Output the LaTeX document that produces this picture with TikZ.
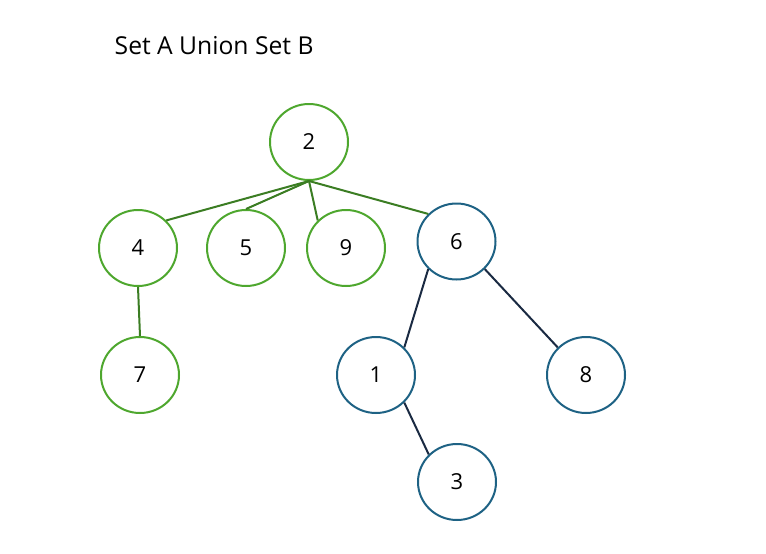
\documentclass[tikz,border=0pt]{standalone}
\usepackage{fontspec}
\setmainfont{Open Sans}
\usetikzlibrary{shapes.geometric}
\definecolor{gcirc}{HTML}{4EA72E}
\definecolor{gedge}{HTML}{3B7D23}
\definecolor{bcirc}{HTML}{1E6284}
\definecolor{bedge}{HTML}{1A2A42}
\begin{document}
\begin{tikzpicture}[x=0.75pt,y=-0.75pt,
  gnode/.style={draw=gcirc,line width=1.5pt,ellipse,minimum width=58.5pt,minimum height=57pt,inner sep=0pt,font=\fontsize{16.5}{19}\selectfont},
  bnode/.style={draw=bcirc,line width=1.5pt,ellipse,minimum width=58.5pt,minimum height=57pt,inner sep=0pt,font=\fontsize{16.5}{19}\selectfont},
  gline/.style={draw=gedge,line width=1.5pt},
  bline/.style={draw=bedge,line width=1.5pt}]
\useasboundingbox (0,0) rectangle (766,553);
\node[anchor=west,font=\fontsize{18.5}{22}\selectfont] (title) at (110,46) {Set A Union Set B};
\node[gnode] (n2) at (309,142) {2};
\node[gnode] (n4) at (138,248) {4};
\node[gnode] (n5) at (246,248) {5};
\node[gnode] (n9) at (346,248) {9};
\node[bnode] (n6) at (456.5,241.5) {6};
\node[gnode] (n7) at (140,375) {7};
\node[bnode] (n1) at (376,375) {1};
\node[bnode] (n8) at (586,375) {8};
\node[bnode] (n3) at (457,482) {3};
\draw[gline] (n2.south) -- (n4.north east);
\draw[gline] (n2.south) -- (n5.north);
\draw[gline] (n2.south) -- (n9.north west);
\draw[gline] (n2.south) -- (n6.north west);
\draw[gline] (n4.south) -- (n7.north);
\draw[bline] (n6.south west) -- (n1.north east);
\draw[bline] (n6.south east) -- (n8.north west);
\draw[bline] (n1.south east) -- (n3.north west);
\end{tikzpicture}
\end{document}
